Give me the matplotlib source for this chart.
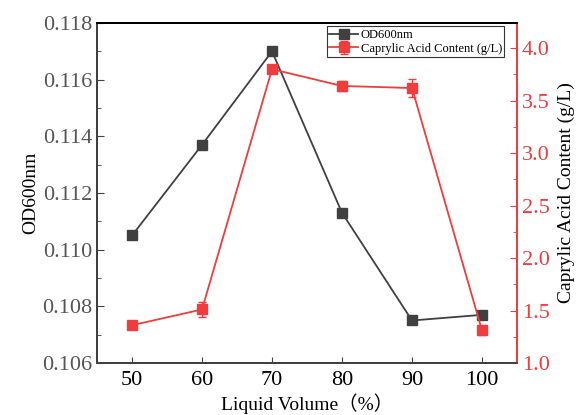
import numpy as np
import matplotlib.pyplot as plt
from matplotlib.ticker import MultipleLocator

volume = [50, 60, 70, 80, 90, 100]
od600 = [0.1105, 0.1137, 0.1170, 0.1113, 0.1075, 0.1077]
acid = [1.36, 1.51, 3.80, 3.64, 3.62, 1.31]
acid_err = [0.02, 0.07, 0.03, 0.05, 0.09, 0.04]

serif = ['Liberation Serif', 'Noto Sans CJK SC']
plt.rcParams['font.family'] = serif

grey = '#404040'
red = '#f03c3c'

fig = plt.figure(figsize=(5.82, 4.15), dpi=100)
ax = fig.add_axes([0.1667, 0.1253, 0.7216, 0.8193])
ax2 = ax.twinx()

ax.plot(volume, od600, color=grey, marker='s', ms=6.5, lw=1.3, label='OD600nm')
ax2.errorbar(volume, acid, yerr=acid_err, color=red, marker='s', ms=6.5, lw=1.3,
             capsize=3, elinewidth=1, label='Caprylic Acid Content (g/L)')

ax.set_xlim(45, 105)
ax.set_ylim(0.106, 0.118)
ax2.set_ylim(1.0, 4.24)

ax.set_xticks(volume)
ax.yaxis.set_major_locator(MultipleLocator(0.002))
ax.yaxis.set_minor_locator(MultipleLocator(0.001))
ax2.yaxis.set_major_locator(MultipleLocator(0.5))
ax2.yaxis.set_minor_locator(MultipleLocator(0.25))
ax.yaxis.set_major_formatter(plt.FormatStrFormatter('%.3f'))
ax2.yaxis.set_major_formatter(plt.FormatStrFormatter('%.1f'))

ax.tick_params(axis='x', direction='in', length=4, labelsize=16, pad=6, color=grey)
ax.tick_params(axis='y', which='major', direction='in', length=5, labelsize=16,
               labelcolor='#555555', color=grey)
ax.tick_params(axis='y', which='minor', direction='in', length=3, color=grey)
ax2.tick_params(axis='y', which='major', direction='in', length=5, labelsize=16,
                labelcolor=red, color=red)
ax2.tick_params(axis='y', which='minor', direction='in', length=3, color=red)

for a in (ax, ax2):
    a.spines['left'].set_color(grey)
    a.spines['bottom'].set_color(grey)
    a.spines['right'].set_color(red)
    a.spines['top'].set_color('black')
    for s in a.spines.values():
        s.set_linewidth(1.3)

ax.set_ylabel('OD600nm', fontsize=14, labelpad=2)
ax2.set_ylabel('Caprylic Acid Content (g/L)', fontsize=14, labelpad=6)
ax.set_xlabel('Liquid Volume（%）', fontsize=14, labelpad=2)

h1, l1 = ax.get_legend_handles_labels()
h2, l2 = ax2.get_legend_handles_labels()
leg = ax2.legend(h1 + h2, l1 + l2, loc='upper right', fontsize=9,
                 frameon=True, fancybox=False, edgecolor='black',
                 borderpad=0.2, handlelength=2.3, handletextpad=0.2,
                 labelspacing=0.15, borderaxespad=0,
                 bbox_to_anchor=(0.97, 0.99))
leg.get_frame().set_linewidth(0.8)

fig.savefig('out.png', dpi=100)
